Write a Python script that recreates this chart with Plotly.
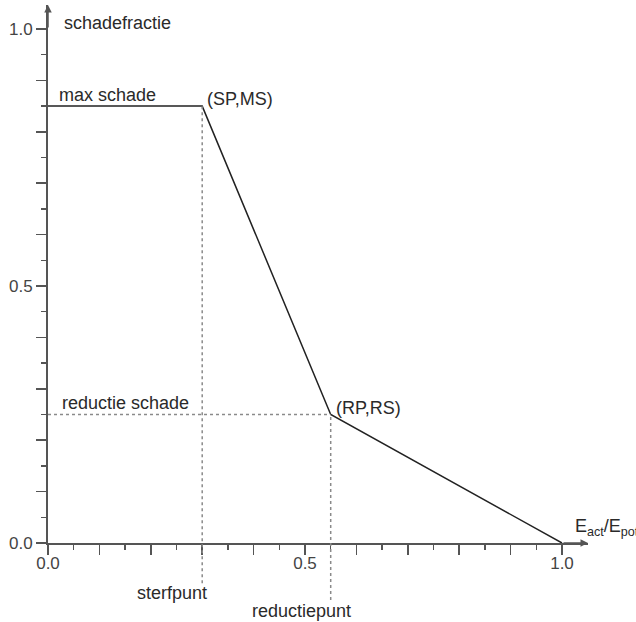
import plotly.graph_objects as go

# ---- data ----
SP = 0.30   # sterfpunt
MS = 0.85   # max schade
RP = 0.55   # reductiepunt
RS = 0.25   # reductie schade
x_curve = [0.0, SP, RP, 1.0]
y_curve = [MS, MS, RS, 0.0]

major_ticks = [0.0, 0.1, 0.2, 0.3, 0.4, 0.5, 0.6, 0.7, 0.8, 0.9, 1.0]
major_labels = ["0.0", "", "", "", "", "0.5", "", "", "", "", "1.0"]
minor_ticks = [0.05, 0.15, 0.25, 0.35, 0.45, 0.55, 0.65, 0.75, 0.85, 0.95]

XMAX = 1.0506
YMAX = 1.0467

FONT = "Liberation Sans, Arial, sans-serif"
AXC = "#555555"
TXT = "#2a2a2a"
FS = 18

fig = go.Figure()
fig.add_trace(go.Scatter(x=x_curve, y=y_curve, mode="lines",
                         line=dict(color="#222222", width=1.5),
                         hoverinfo="skip", showlegend=False))

dot = dict(color="#8a8a8a", width=1.5, dash="dot")
EXT_SP = -0.075
EXT_RP = -0.106
# vertical dotted lines (extend below the x axis)
fig.add_shape(type="line", xref="x", yref="paper", x0=SP, x1=SP,
              y0=EXT_SP, y1=MS / YMAX, line=dot)
fig.add_shape(type="line", xref="x", yref="paper", x0=RP, x1=RP,
              y0=EXT_RP, y1=RS / YMAX, line=dot)
# horizontal dotted line
fig.add_shape(type="line", xref="x", yref="y", x0=0, x1=RP,
              y0=RS, y1=RS, line=dot)

ann = []
def txt(text, x, y, xa, ya, xs=0, ys=0, xref="x", yref="y"):
    ann.append(dict(text=text, x=x, y=y, xref=xref, yref=yref,
                    xanchor=xa, yanchor=ya, xshift=xs, yshift=ys,
                    showarrow=False, font=dict(family=FONT, size=FS, color=TXT)))

txt("schadefractie", 0, 1.0, "left", "bottom", xs=14, ys=-6)
txt("max schade", 0, MS, "left", "bottom", xs=9, ys=-1)
txt("(SP,MS)", SP, MS, "left", "bottom", xs=3, ys=-5)
txt("reductie schade", 0, RS, "left", "bottom", xs=12, ys=0)
txt("(RP,RS)", RP, RS, "left", "middle", xs=3, ys=7)
txt("sterfpunt", SP, 0, "right", "middle", xs=7, ys=-50)
txt("reductiepunt", RP, 0, "right", "middle", xs=22, ys=-68)
txt("E<sub>act</sub>/E<sub>pot</sub>", 1.0, 0, "left", "bottom", xs=11, ys=2)

# axis arrows
for (x, y, ax, ay) in [(0, YMAX, 0, 1.0), (XMAX, 0, 1.0, 0)]:
    ann.append(dict(text="", x=x, y=y, ax=ax, ay=ay, xref="x", yref="y",
                    axref="x", ayref="y", showarrow=True, arrowhead=2,
                    arrowsize=1, arrowwidth=1.5, arrowcolor=AXC))

axis_common = dict(showgrid=False, zeroline=False, showline=True,
                   linecolor=AXC, linewidth=2, ticks="outside", ticklen=10,
                   tickwidth=1.5, tickcolor=AXC,
                   tickvals=major_ticks, ticktext=major_labels,
                   tickfont=dict(family=FONT, size=17, color="#444444"),
                   minor=dict(tickvals=minor_ticks, ticks="outside", ticklen=5,
                              tickwidth=1.5, tickcolor=AXC),
                   automargin=False, fixedrange=True)

fig.update_layout(
    width=636, height=622,
    margin=dict(l=48, r=48, t=5, b=79),
    paper_bgcolor="white", plot_bgcolor="white",
    xaxis=dict(range=[0, XMAX], ticklabelstandoff=-6, **axis_common),
    yaxis=dict(range=[0, YMAX], **axis_common),
    annotations=ann,
    showlegend=False,
)

fig.write_html("out.html",
               config={"displayModeBar": False, "staticPlot": True},
               post_script="document.body.style.margin='0';document.body.style.overflow='hidden';")
